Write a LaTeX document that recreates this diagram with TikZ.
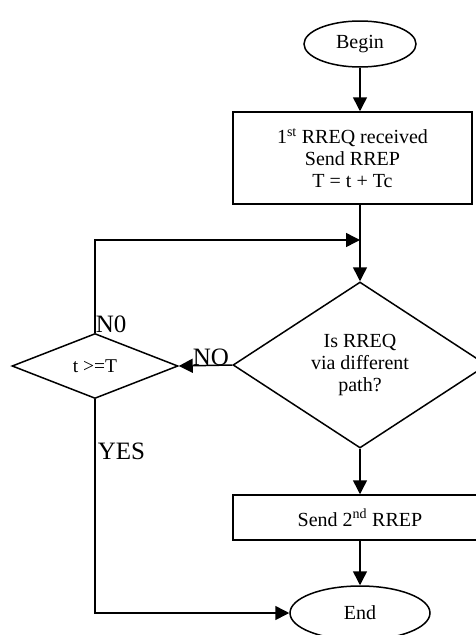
\documentclass[tikz,border=0pt]{standalone}
\usepackage{fontspec}
\setmainfont{Liberation Serif}
\usetikzlibrary{shapes.geometric,arrows.meta}

\begin{document}
\begin{tikzpicture}[x=1pt,y=-1pt,line width=1.5pt,>={Triangle[length=14pt,width=14pt]}]

        \useasboundingbox (0,0) rectangle (476,635);

        \begin{scope}[every node/.style={draw, align=center, inner sep=0pt, font=\fontsize{20}{22}\selectfont}]
          \node[ellipse, minimum width=112pt, minimum height=46pt] (begin) at (360,44) {Begin};
          \node[rectangle, minimum width=239pt, minimum height=92pt] (rrep1) at (352.5,158)
            {1\textsuperscript{st} RREQ received\\Send RREP\\T = t + Tc};
          \node[diamond, minimum width=254pt, minimum height=166pt] (via) at (360,365)
            {Is RREQ\\via different\\path?};
          \node[diamond, minimum width=166pt, minimum height=65pt, font=\fontsize{19.5}{21}\selectfont] (check) at (95,366) {t >=T};
          \node[rectangle, minimum width=254pt, minimum height=45pt] (rrep2) at (360,517.5)
            {Send 2\textsuperscript{nd} RREP};
          \node[ellipse, minimum width=140pt, minimum height=54pt] (end) at (360,613) {End};
        \end{scope}

        \coordinate (loop) at (360,240);

        \begin{scope}[every node/.style={inner sep=0pt, font=\fontsize{25}{28}\selectfont}]

          \begin{scope}[every edge/.style={draw, ->}]
            \path (begin) edge (rrep1.north -| begin);
            \path (rrep1.south -| via) edge (via.north);
            \path (via.west) edge node[pos=0.4, anchor=base] {NO} (check.east);
            \path (via.south) edge (rrep2.north);
            \path (rrep2.south) edge (end.north);
          \end{scope}

          \draw[->] (check.north) node[anchor=base west] {N0} |- (loop);
          \draw[->] (check.south) |- node[pos=0.14, anchor=base west, xshift=2pt] {YES} (end.west);
        \end{scope}

      \end{tikzpicture}
\end{document}
